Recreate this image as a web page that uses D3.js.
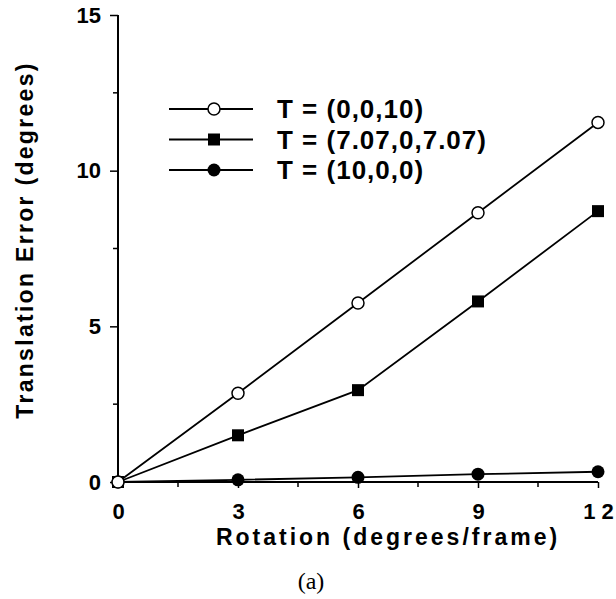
<!DOCTYPE html>
<html>
<head>
<meta charset="utf-8">
<script src="https://cdn.jsdelivr.net/npm/d3@7"></script>
<style>
  body { margin: 0; background: #fff; }
  svg { display: block; }
  text { font-family: "Liberation Sans", Arial, sans-serif; fill: #000; font-weight: bold; }
</style>
</head>
<body>
<svg id="chart" width="616" height="599"></svg>
<script>
'use strict';

const rotation = [0, 3, 6, 9, 12];
const seriesNames = ['T = (0,0,10)', 'T = (7.07,0,7.07)', 'T = (10,0,0)'];
const errZ = [0, 2.85, 5.75, 8.65, 11.55];
const errDiag = [0, 1.5, 2.95, 5.8, 8.7];
const errX = [0, 0.07, 0.15, 0.25, 0.33];
const xTickLabels = ['0', '3', '6', '9', '1 2'];
const yTicks = [0, 5, 10, 15];

const svg = d3.select('#chart');

const x = d3.scaleLinear().domain([0, 12]).range([118, 598]);
const y = d3.scaleLinear().domain([0, 15]).range([482, 15]);

const series = [
  { name: seriesNames[0], values: errZ, marker: 'open' },
  { name: seriesNames[1], values: errDiag, marker: 'square' },
  { name: seriesNames[2], values: errX, marker: 'dot' }
];

// axes
const yAxis = d3.axisLeft(y)
  .tickValues(yTicks)
  .tickSize(8)
  .tickPadding(9);

const gy = svg.append('g')
  .attr('transform', `translate(${x(0)},0)`)
  .call(yAxis);
gy.select('.domain').attr('d', `M0,${y(15)}V${y(0)}`).attr('stroke-width', 2);

const xAxis = d3.axisBottom(x)
  .tickValues(rotation)
  .tickFormat((d, i) => xTickLabels[i])
  .tickSize(6)
  .tickPadding(15);

const gx = svg.append('g')
  .attr('transform', `translate(0,${y(0)})`)
  .call(xAxis);
gx.select('.domain').attr('d', `M${x(0)},0H${x(12)}`).attr('stroke-width', 2);

[gx, gy].forEach(g => {
  g.selectAll('.tick line').attr('stroke-width', 1.5);
  g.selectAll('.tick text')
    .style('font-size', '22px')
    .style('font-weight', 'bold')
    .style('font-family', '"Liberation Sans", Arial, sans-serif');
});

// minor ticks
svg.append('g').selectAll('line')
  .data([2.5, 7.5, 12.5])
  .join('line')
  .attr('x1', x(0) - 5).attr('x2', x(0))
  .attr('y1', d => y(d)).attr('y2', d => y(d))
  .attr('stroke', '#000').attr('stroke-width', 1.5);

svg.append('g').selectAll('line')
  .data([1.5, 4.5, 7.5, 10.5])
  .join('line')
  .attr('x1', d => x(d)).attr('x2', d => x(d))
  .attr('y1', y(0)).attr('y2', y(0) + 5)
  .attr('stroke', '#000').attr('stroke-width', 1.5);

// axis titles
svg.append('text')
  .attr('transform', 'translate(33,240) rotate(-90)')
  .attr('text-anchor', 'middle')
  .style('font-size', '23px')
  .style('letter-spacing', '2.3px')
  .text('Translation  Error  (degrees)');

svg.append('text')
  .attr('x', 388)
  .attr('y', 545)
  .attr('text-anchor', 'middle')
  .style('font-size', '23px')
  .style('letter-spacing', '3px')
  .text('Rotation  (degrees/frame)');

svg.append('text')
  .attr('x', 311)
  .attr('y', 589)
  .attr('text-anchor', 'middle')
  .style('font-family', '"Liberation Serif", "Times New Roman", serif')
  .style('font-weight', 'normal')
  .style('font-size', '24px')
  .text('(a)');

// markers
function drawMarker(g, type) {
  if (type === 'open') {
    g.append('circle').attr('r', 6)
      .attr('fill', '#fff').attr('stroke', '#000').attr('stroke-width', 1.5);
  } else if (type === 'square') {
    g.append('rect').attr('x', -6).attr('y', -6)
      .attr('width', 12).attr('height', 12).attr('fill', '#000');
  } else {
    g.append('circle').attr('r', 6.5).attr('fill', '#000');
  }
}

const line = d3.line()
  .x((d, i) => x(rotation[i]))
  .y(d => y(d));

// draw the flat series first so the others sit on top
series.slice().reverse().forEach(s => {
  svg.append('path')
    .attr('d', line(s.values))
    .attr('fill', 'none')
    .attr('stroke', '#000')
    .attr('stroke-width', 1.8);

  svg.append('g').selectAll('g')
    .data(s.values)
    .join('g')
    .attr('transform', (d, i) => `translate(${x(rotation[i])},${y(d)})`)
    .each(function() { drawMarker(d3.select(this), s.marker); });
});

// legend
const legend = svg.append('g').attr('transform', 'translate(169,109)');
series.forEach((s, i) => {
  const row = legend.append('g').attr('transform', `translate(0,${i * 30.5})`);
  row.append('line')
    .attr('x1', 0).attr('x2', 84)
    .attr('stroke', '#000').attr('stroke-width', 1.8);
  drawMarker(row.append('g').attr('transform', 'translate(45,0)'), s.marker);
  row.append('text')
    .attr('x', 108)
    .attr('y', 9)
    .style('font-size', '26px')
    .style('letter-spacing', '1px')
    .text(s.name);
});
</script>
</body>
</html>
